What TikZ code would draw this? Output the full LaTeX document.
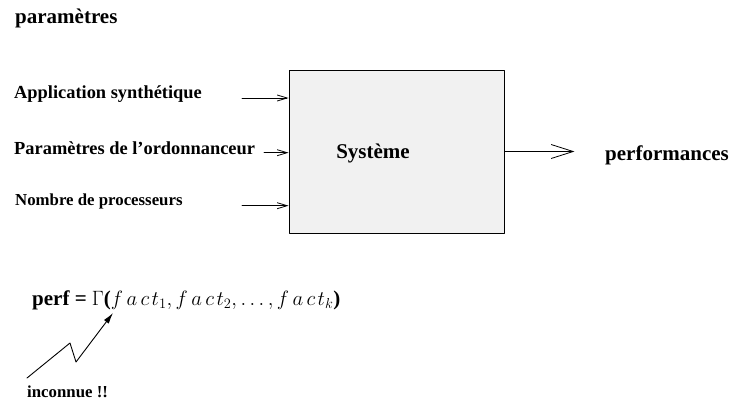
\documentclass[tikz,border=0pt]{standalone}
\usepackage[no-math]{fontspec}
\setmainfont{Liberation Serif}
\usepackage{tikz}
\usetikzlibrary{arrows.meta}
\definecolor{boxgray}{rgb}{0.945,0.945,0.945}
\newcommand{\fct}[1]{f\,a\,c\mkern2mu t_{#1}}
\tikzset{
  every node/.style={inner sep=0pt},
  bigtxt/.style={font=\fontsize{21}{25}\selectfont\bfseries},
  midtxt/.style={font=\fontsize{18.4}{22}\selectfont\bfseries},
  smalltxt/.style={font=\fontsize{16.8}{20}\selectfont\bfseries},
  feed/.style={line width=0.9pt,-{Straight Barb[length=10pt,width=6pt,line width=0.8pt]}},
  result/.style={line width=0.9pt,-{Straight Barb[length=22pt,width=14pt,line width=0.8pt]}},
  hint/.style={line width=0.9pt,-{Latex[length=11pt,width=6pt]}}
}

\begin{document}
\begin{tikzpicture}[line cap=round,line join=round,x=1pt,y=-1pt]
\useasboundingbox (0,0) rectangle (734,402);
\node[bigtxt,anchor=base west] (param) at (15,23) {paramètres};
\node[midtxt,anchor=base west] (app) at (14,98) {Application synthétique};
\node[midtxt,anchor=base west] (ordo) at (14,154) {Paramètres de l’ordonnanceur};
\node[smalltxt,anchor=base west] (nproc) at (15,205) {Nombre de processeurs};
\node[draw,fill=boxgray,line width=0.9pt,minimum width=215pt,minimum height=163pt] (sys) at (396.5,151.5) {};
\node[bigtxt,anchor=base] (systxt) at (373,158) {Système};
\coordinate (in1) at (242,98);
\coordinate (in2) at (264,152.7);
\coordinate (in3) at (242,205.7);
\draw[feed] (in1) -- (in1 -| sys.west);
\draw[feed] (in2) -- (in2 -| sys.west);
\draw[feed] (in3) -- (in3 -| sys.west);
\path (sys.east) ++(70,0) coordinate (out);
\draw[result] (sys.east) -- (out);
\node[bigtxt,anchor=base west] (perf) at (605,160) {performances};
\node[bigtxt,anchor=base west] (formula) at (32,305)
  {perf = $\Gamma$($\fct{1}, \fct{2}, \ldots, \fct{k}$)};
\node[smalltxt,anchor=base west] (unk) at (27,397) {inconnue !!};
\coordinate (z0) at (27,378);
\coordinate (z1) at (70,343);
\coordinate (z2) at (76,362);
\coordinate (z3) at (113,313);
\draw[hint] (z0) -- (z1) -- (z2) -- (z3);
\end{tikzpicture}
\end{document}
